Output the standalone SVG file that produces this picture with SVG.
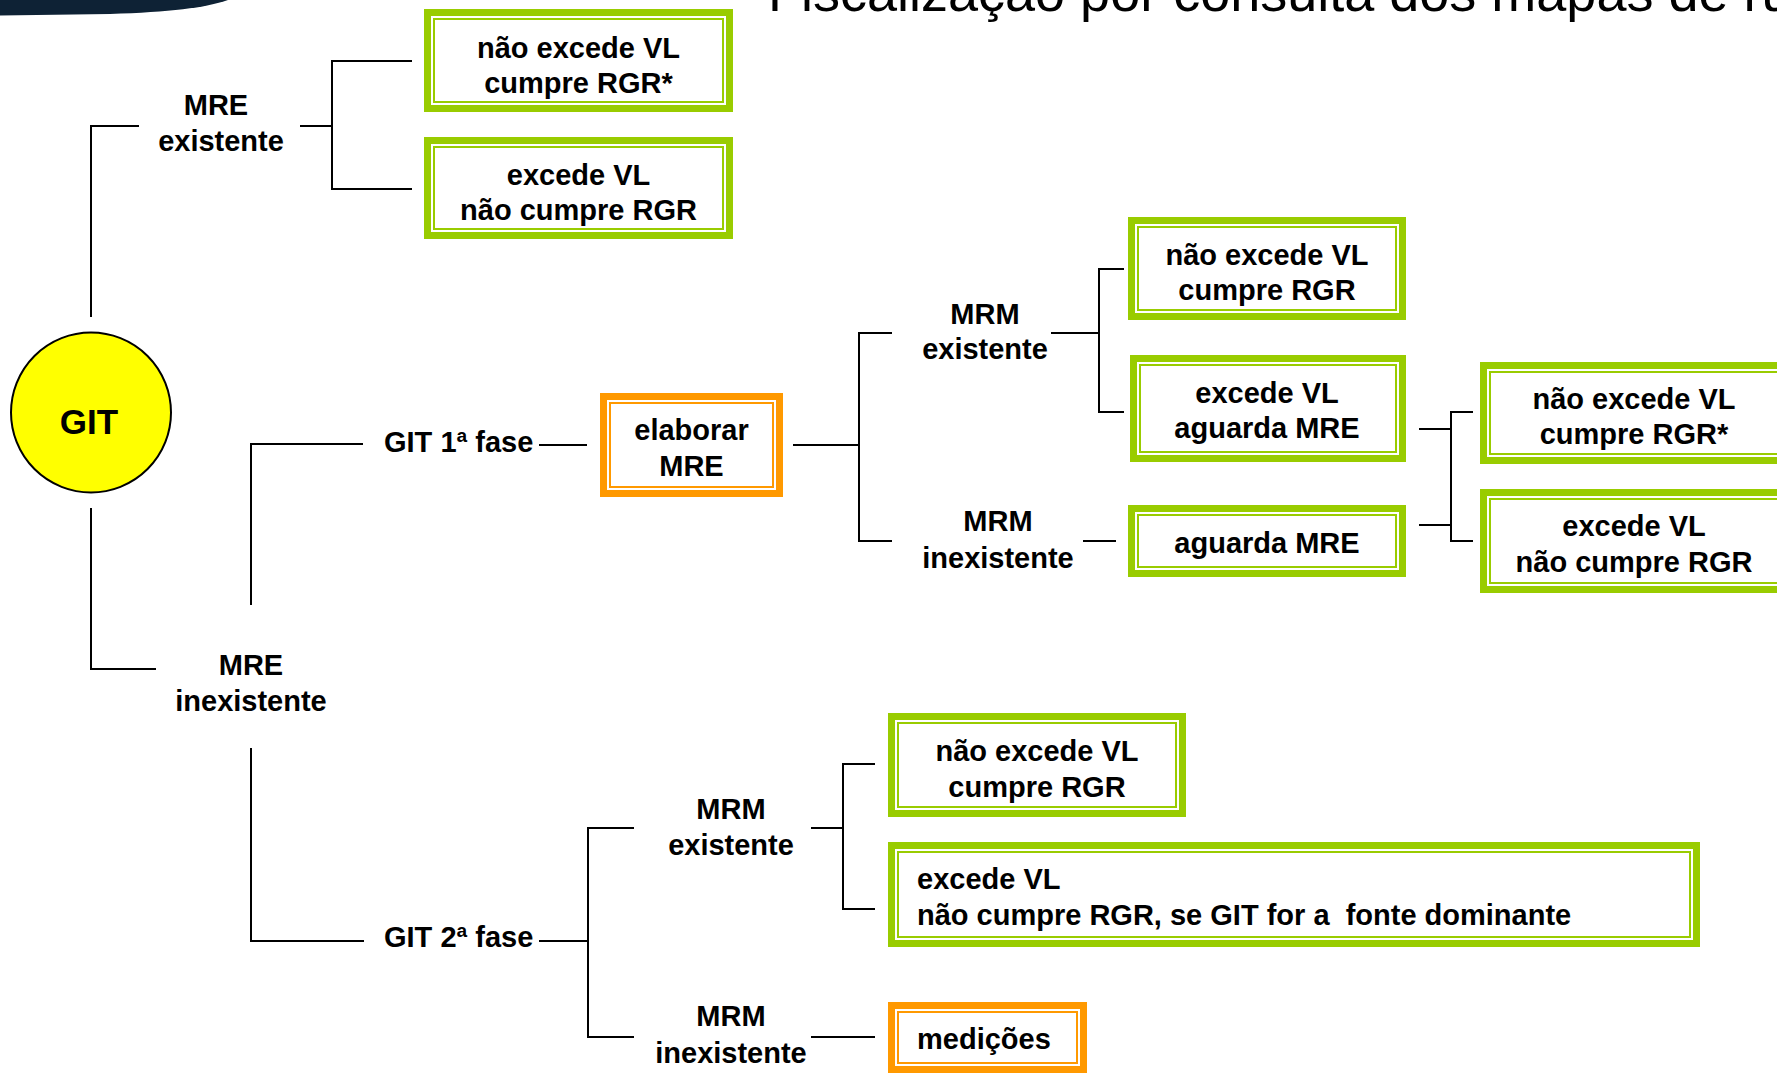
<svg xmlns="http://www.w3.org/2000/svg" width="1777" height="1075" viewBox="0 0 1777 1075">
<style>
.ln{stroke:#000;stroke-width:2;fill:none;stroke-linecap:butt}
.t{font-family:"Liberation Sans",Arial,sans-serif;font-weight:bold;font-size:29px;fill:#000}
.c{text-anchor:middle}
.gk{fill:#fff;stroke:#99CC00;stroke-width:7}
.gn{fill:none;stroke:#99CC00;stroke-width:2}
.ok{fill:#fff;stroke:#FF9900;stroke-width:7}
.on{fill:none;stroke:#FF9900;stroke-width:2}
</style>
<rect width="1777" height="1075" fill="#fff"/>
<path d="M0,0 H228 C205,8 170,12 110,14 L0,15.5 Z" fill="#0E2235"/>
<text x="768" y="11" style="font-family:'Liberation Sans',Arial,sans-serif;font-size:54px;fill:#000">Fiscalização por consulta dos mapas de ruído</text>

<g id="connectors">
<path class="ln" d="M91,317 V126 H139"/>
<path class="ln" d="M300,126 H332 M412,61 H332 V189 H412"/>
<path class="ln" d="M91,508 V669 H156"/>
<path class="ln" d="M251,605 V444 H363"/>
<path class="ln" d="M251,748 V941 H364"/>
<path class="ln" d="M539,445 H587"/>
<path class="ln" d="M793,445 H859 M892,333 H859 V541 H892"/>
<path class="ln" d="M1051,333 H1099 M1124,269 H1099 V412 H1124"/>
<path class="ln" d="M1083,541 H1116"/>
<path class="ln" d="M1419,429 H1451 M1419,525 H1451 M1473,412 H1451 V541 H1473"/>
<path class="ln" d="M539,941 H588 M634,828 H588 V1037 H634"/>
<path class="ln" d="M811,828 H843 M875,764 H843 V909 H875"/>
<path class="ln" d="M811,1037 H875"/>
</g>

<g id="git">
<circle cx="91" cy="412.5" r="80" fill="#FFFF00" stroke="#000" stroke-width="2"/>
<text class="t c" x="89" y="434" style="font-size:35px">GIT</text>
</g>

<g id="mre-existente">
<text class="t c" x="216" y="115">MRE</text>
<text class="t c" x="221" y="151">existente</text>
</g>

<g id="b1">
<rect class="gk" x="427.5" y="12.5" width="302" height="96"/>
<rect class="gn" x="434" y="19" width="289" height="83"/>
<text class="t c" x="578.5" y="58">não excede VL</text>
<text class="t c" x="578.5" y="93">cumpre RGR*</text>
</g>

<g id="b2">
<rect class="gk" x="427.5" y="140.5" width="302" height="95"/>
<rect class="gn" x="434" y="147" width="289" height="82"/>
<text class="t c" x="578.5" y="185">excede VL</text>
<text class="t c" x="578.5" y="220">não cumpre RGR</text>
</g>

<g id="mre-inexistente">
<text class="t c" x="251" y="675">MRE</text>
<text class="t c" x="251" y="711">inexistente</text>
</g>

<g id="git-1-fase">
<text class="t" x="384" y="452">GIT 1ª fase</text>
</g>

<g id="elaborar">
<rect class="ok" x="603.5" y="396.5" width="176" height="97"/>
<rect class="on" x="610" y="403" width="163" height="84"/>
<text class="t c" x="691.5" y="440">elaborar</text>
<text class="t c" x="691.5" y="476">MRE</text>
</g>

<g id="mrm-existente-1">
<text class="t c" x="985" y="324">MRM</text>
<text class="t c" x="985" y="359">existente</text>
</g>

<g id="mrm-inexistente-1">
<text class="t c" x="998" y="531">MRM</text>
<text class="t c" x="998" y="568">inexistente</text>
</g>

<g id="m1">
<rect class="gk" x="1131.5" y="220.5" width="271" height="96"/>
<rect class="gn" x="1138" y="227" width="258" height="83"/>
<text class="t c" x="1267" y="265">não excede VL</text>
<text class="t c" x="1267" y="300">cumpre RGR</text>
</g>

<g id="m2">
<rect class="gk" x="1133.5" y="358.5" width="269" height="100"/>
<rect class="gn" x="1140" y="365" width="256" height="87"/>
<text class="t c" x="1267" y="403">excede VL</text>
<text class="t c" x="1267" y="438">aguarda MRE</text>
</g>

<g id="m3">
<rect class="gk" x="1131.5" y="508.5" width="271" height="65"/>
<rect class="gn" x="1138" y="515" width="258" height="52"/>
<text class="t c" x="1267" y="553">aguarda MRE</text>
</g>

<g id="r1">
<rect class="gk" x="1483.5" y="365.5" width="303" height="95"/>
<rect class="gn" x="1490" y="372" width="290" height="82"/>
<text class="t c" x="1634" y="409">não excede VL</text>
<text class="t c" x="1634" y="444">cumpre RGR*</text>
</g>

<g id="r2">
<rect class="gk" x="1483.5" y="492.5" width="303" height="97"/>
<rect class="gn" x="1490" y="499" width="290" height="84"/>
<text class="t c" x="1634" y="536">excede VL</text>
<text class="t c" x="1634" y="572">não cumpre RGR</text>
</g>

<g id="git-2-fase">
<text class="t" x="384" y="947">GIT 2ª fase</text>
</g>

<g id="mrm-existente-2">
<text class="t c" x="731" y="819">MRM</text>
<text class="t c" x="731" y="855">existente</text>
</g>

<g id="mrm-inexistente-2">
<text class="t c" x="731" y="1026">MRM</text>
<text class="t c" x="731" y="1063">inexistente</text>
</g>

<g id="n1">
<rect class="gk" x="891.5" y="716.5" width="291" height="97"/>
<rect class="gn" x="898" y="723" width="278" height="84"/>
<text class="t c" x="1037" y="761">não excede VL</text>
<text class="t c" x="1037" y="797">cumpre RGR</text>
</g>

<g id="n2">
<rect class="gk" x="891.5" y="845.5" width="805" height="98"/>
<rect class="gn" x="898" y="852" width="792" height="85"/>
<text class="t" x="917" y="889">excede VL</text>
<text class="t" x="917" y="925" xml:space="preserve">não cumpre RGR, se GIT for a  fonte dominante</text>
</g>

<g id="medicoes">
<rect class="ok" x="891.5" y="1005.5" width="192" height="64"/>
<rect class="on" x="898" y="1012" width="179" height="51"/>
<text class="t" x="917" y="1049">medições</text>
</g>
</svg>
